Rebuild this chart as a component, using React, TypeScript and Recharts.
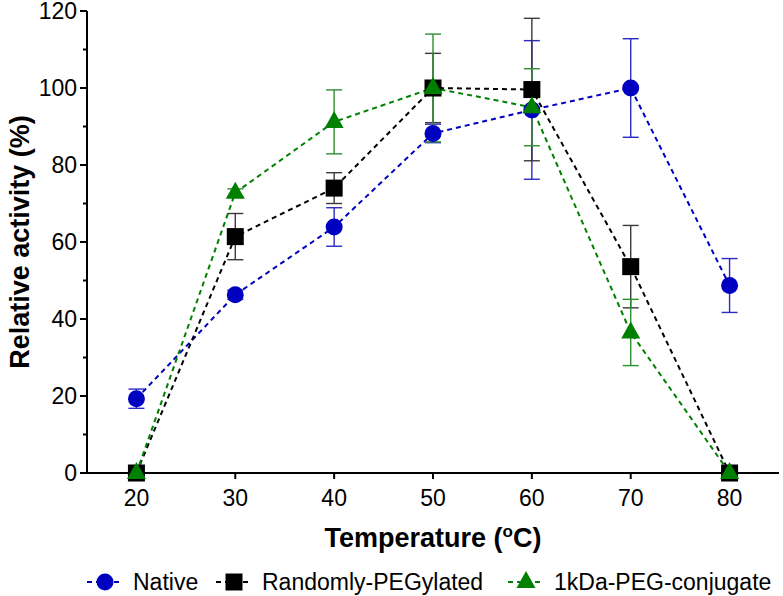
import React from "react";
import { LineChart, Line, XAxis, YAxis, ErrorBar, Legend } from "recharts";

// Temperature profile: relative activity (%) +/- SD
const temperatures = [20, 30, 40, 50, 60, 70, 80];
const nativeActivity = [19.3, 46.3, 63.9, 88.2, 94.3, 100, 48.7];
const nativeSd = [2.5, 1.2, 5, 2.4, 18, 12.8, 7];
const randomActivity = [0, 61.4, 74, 100, 99.6, 53.6, 0];
const randomSd = [0, 6, 4, 9, 18.5, 10.7, 0];
const pegActivity = [0, 72.8, 91.2, 100, 95, 36.5, 0];
const pegSd = [0, 1, 8.3, 14, 10, 8.6, 0];

const xTicks = [20, 30, 40, 50, 60, 70, 80];
const yTicks = [0, 10, 20, 30, 40, 50, 60, 70, 80, 90, 100, 110, 120];

const FONT = '"Liberation Sans", Arial, Helvetica, sans-serif';

type Shape = "circle" | "square" | "triangle";

const series: { key: string; err: string; name: string; color: string; barColor: string; shape: Shape; legendX: number }[] = [
  { key: "native", err: "nativeErr", name: "Native", color: "#0000c0", barColor: "#2b2bc4", shape: "circle", legendX: 87 },
  { key: "random", err: "randomErr", name: "Randomly-PEGylated", color: "#000000", barColor: "#3a3a3a", shape: "square", legendX: 216 },
  { key: "peg", err: "pegErr", name: "1kDa-PEG-conjugate", color: "#008000", barColor: "#2f8f2f", shape: "triangle", legendX: 508 },
];

const data = temperatures.map((t, i) => ({
  t,
  native: nativeActivity[i],
  nativeErr: nativeSd[i],
  random: randomActivity[i],
  randomErr: randomSd[i],
  peg: pegActivity[i],
  pegErr: pegSd[i],
}));

function Marker({ cx, cy, shape, color }: { cx: number; cy: number; shape: Shape; color: string }) {
  if (shape === "circle") return <circle cx={cx} cy={cy} r={8.5} fill={color} />;
  if (shape === "square") return <rect x={cx - 8.5} y={cy - 8.5} width={17} height={17} fill={color} />;
  return <polygon points={`${cx},${cy - 11} ${cx - 9.5},${cy + 6} ${cx + 9.5},${cy + 6}`} fill={color} />;
}

function YTick(props: any) {
  const { x, y, payload } = props;
  const axisX = x + 10;
  const major = payload.value % 20 === 0;
  return (
    <g>
      <line x1={axisX - (major ? 7 : 4)} y1={y} x2={axisX} y2={y} stroke="#000" strokeWidth={2} />
      {major && (
        <text x={x} y={y} dy="0.36em" textAnchor="end" fontSize={23} fontFamily={FONT} fill="#000">
          {payload.value}
        </text>
      )}
    </g>
  );
}

function YTitle(props: any) {
  const vb = props.viewBox || { y: 11, height: 462 };
  const cy = vb.y + vb.height / 2;
  return (
    <text
      x={20}
      y={cy}
      transform={`rotate(-90, 20, ${cy})`}
      textAnchor="middle"
      dominantBaseline="central"
      fontSize={27}
      fontWeight="bold"
      fontFamily={FONT}
      fill="#000"
    >
      Relative activity (%)
    </text>
  );
}

function XTitle(props: any) {
  const vb = props.viewBox || { x: 87, y: 473, width: 692 };
  const cx = vb.x + vb.width / 2;
  return (
    <text x={cx} y={vb.y + 74} textAnchor="middle" fontSize={27} fontWeight="bold" fontFamily={FONT} fill="#000">
      <tspan>Temperature (</tspan>
      <tspan fontSize={17} dy={-10}>o</tspan>
      <tspan dy={10}>C)</tspan>
    </text>
  );
}

function LegendRow() {
  return (
    <div style={{ position: "relative", width: 783, height: 28, fontFamily: FONT, fontSize: 23, color: "#000" }}>
      {series.map((s) => (
        <div key={s.key} style={{ position: "absolute", left: s.legendX, top: 0, height: 28, display: "flex", alignItems: "center" }}>
          <svg width={36} height={24} style={{ marginRight: 10 }}>
            <line x1={0} y1={12} x2={36} y2={12} stroke={s.color} strokeWidth={2} strokeDasharray="5 4" />
            <Marker cx={18} cy={12} shape={s.shape} color={s.color} />
          </svg>
          <span style={{ whiteSpace: "nowrap" }}>{s.name}</span>
        </div>
      ))}
    </div>
  );
}

export default function App() {
  return (
    <div style={{ position: "absolute", left: 0, top: 0, width: 783, height: 596, background: "#fff" }}>
      <LineChart width={783} height={596} data={data} margin={{ top: 11, right: 4, bottom: 0, left: 0 }}>
        <XAxis
          type="number"
          dataKey="t"
          domain={[15, 85]}
          ticks={xTicks}
          interval={0}
          allowDataOverflow
          height={95}
          axisLine={{ stroke: "#000", strokeWidth: 2 }}
          tickLine={{ stroke: "#000", strokeWidth: 2 }}
          tickSize={6}
          tickMargin={11}
          tick={{ fontSize: 23, fill: "#000", fontFamily: FONT }}
          label={{ content: (p: any) => <XTitle {...p} /> }}
        />
        <YAxis
          type="number"
          domain={[0, 120]}
          ticks={yTicks}
          interval={0}
          width={87}
          axisLine={{ stroke: "#000", strokeWidth: 2 }}
          tickLine={false}
          tickSize={7}
          tickMargin={3}
          tick={(p: any) => <YTick {...p} />}
          label={{ content: (p: any) => <YTitle {...p} /> }}
        />
        <Legend verticalAlign="bottom" height={28} wrapperStyle={{ left: 0, bottom: 0, width: 783 }} content={() => <LegendRow />} />
        {series.map((s) => (
          <Line
            key={s.key}
            type="linear"
            dataKey={s.key}
            name={s.name}
            stroke={s.color}
            strokeWidth={2}
            strokeDasharray="5 4"
            isAnimationActive={false}
            activeDot={false}
            dot={(p: any) => <Marker key={`${s.key}-${p.index}`} cx={p.cx} cy={p.cy} shape={s.shape} color={s.color} />}
          >
            <ErrorBar dataKey={s.err} direction="y" width={8} stroke={s.barColor} strokeWidth={1.4} isAnimationActive={false} />
          </Line>
        ))}
      </LineChart>
    </div>
  );
}
